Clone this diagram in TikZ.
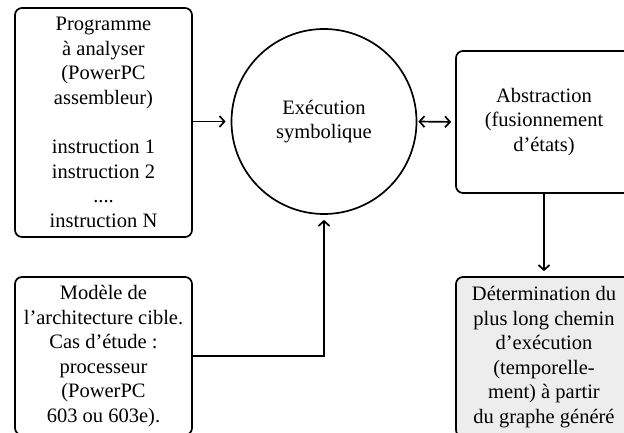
\documentclass[tikz,border=0pt]{standalone}
\usepackage{fontspec}
\setmainfont{Liberation Serif}
\usetikzlibrary{arrows.meta}
\begin{document}
\begin{tikzpicture}[x=1pt,y=-1pt,
  every node/.style={font=\fontsize{20.5}{24.6}\selectfont, align=center, inner sep=0pt},
  stepbox/.style={draw, line width=1.7pt, rounded corners=7pt, rectangle},
  hub/.style={draw, line width=1.7pt, circle},
  arr/.style={line width=1.7pt, -{Straight Barb[length=5pt,width=11pt]}, shorten >=5pt},
  darr/.style={line width=1.7pt, {Straight Barb[length=5pt,width=11pt]}-{Straight Barb[length=5pt,width=11pt]}, shorten >=4pt, shorten <=1pt}]
  \useasboundingbox (0,0) rectangle (624,433);
  \clip (0,0) rectangle (624,433);

  % input program
  \node[stepbox, minimum width=177pt, minimum height=229pt] (prog) at (103.5,122.5)
    {Programme\\à analyser\\(PowerPC\\assembleur)\\[24.6pt]instruction 1\\instruction 2\\....\\instruction N};

  % symbolic execution engine
  \node[hub, minimum size=185pt] (exec) at (324,121.5) {Exécution\\symbolique};

  % state merging
  \node[stepbox, minimum width=176pt, minimum height=142pt] (abst) at (544,122)
    {Abstraction\\(fusionnement\\d’états)};

  % target architecture model
  \node[stepbox, minimum width=177pt, minimum height=158pt] (modele) at (103.5,356)
    {Modèle de\\l’architecture cible.\\Cas d’étude :\\processeur\\(PowerPC\\603 ou 603e).};

  % longest path computation
  \node[stepbox, fill=black!7, minimum width=176pt, minimum height=160pt] (determ) at (544,357)
    {Détermination du\\plus long chemin\\d’exécution\\(temporelle-\\ment) à partir\\du graphe généré};

  \draw[arr] (prog.east |- exec.west) -- (exec.west);
  \draw[darr] (exec.east) -- (abst.west);
  \draw[arr] (abst.south) -- (determ.north);
  \draw[arr] (modele.east) -| (exec.south);
\end{tikzpicture}
\end{document}
